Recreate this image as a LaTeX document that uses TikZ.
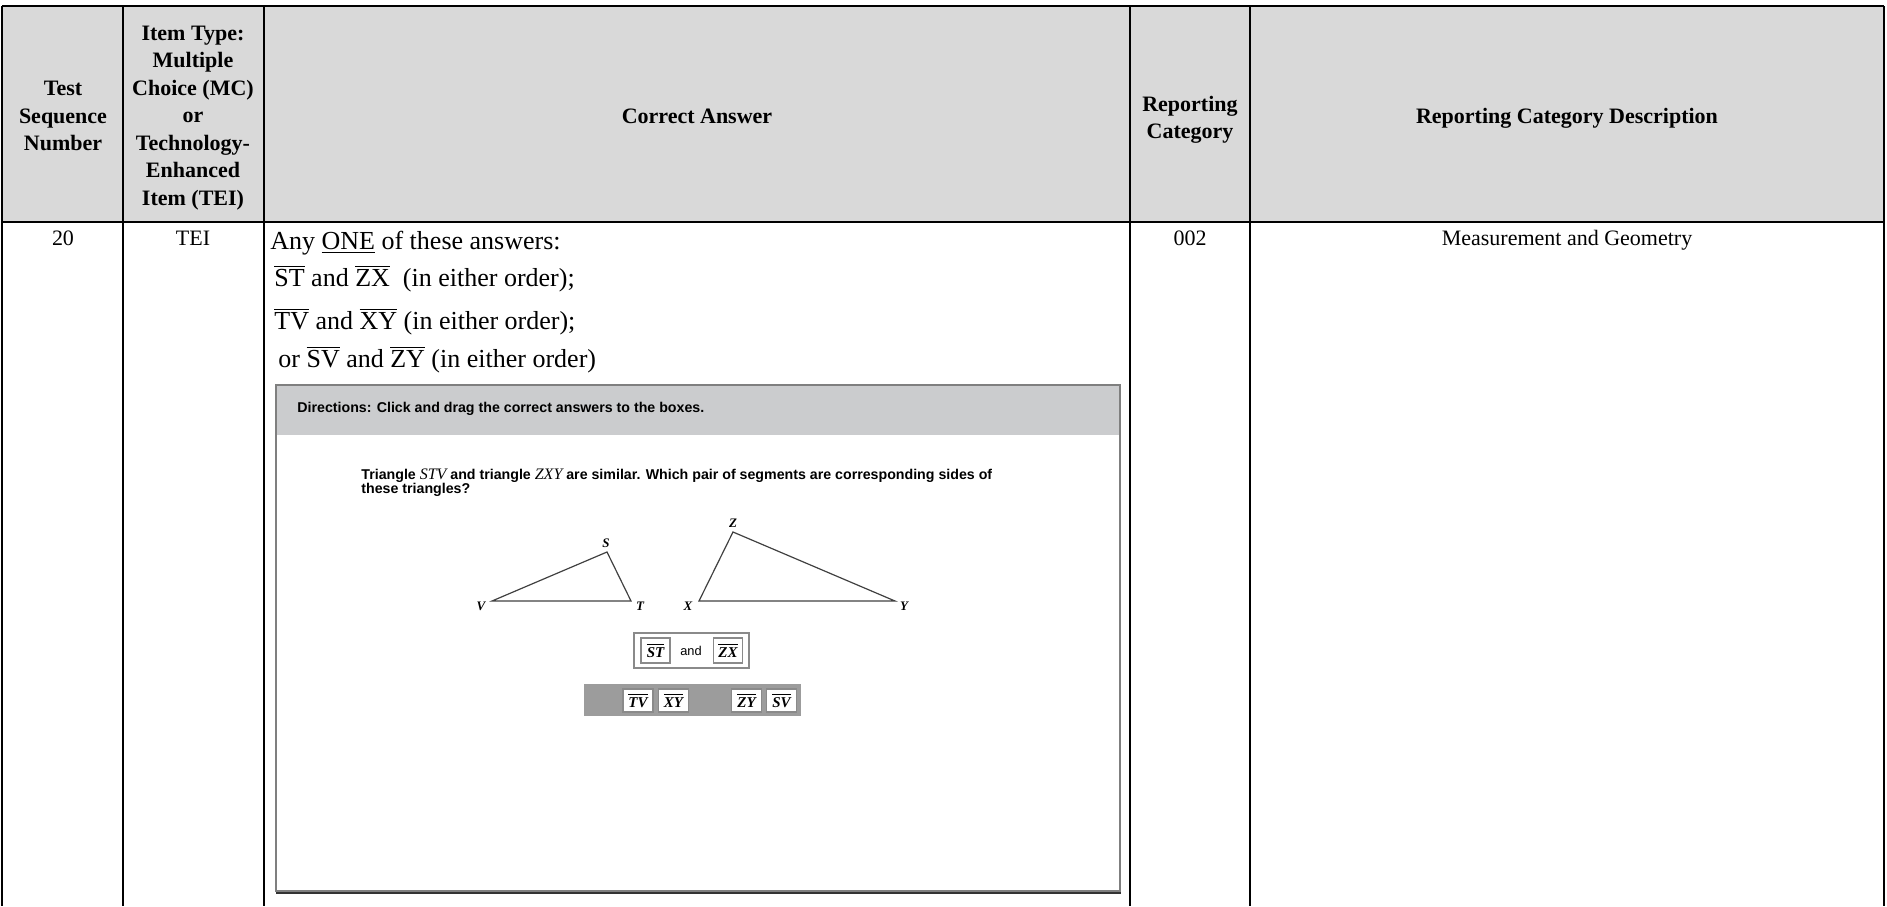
\documentclass[tikz,border=0pt]{standalone}
\usepackage{fontspec}
\setmainfont{Liberation Serif}
\newfontfamily\panelsf{Liberation Sans}
\usetikzlibrary{positioning}

\definecolor{headgray}{HTML}{D9D9D9}
\definecolor{bargray}{HTML}{CBCCCE}
\definecolor{framegray}{HTML}{7F7F7F}
\definecolor{chipgray}{HTML}{8A8A8A}

\newcommand{\seg}[1]{$\overline{\mbox{#1}}$}
\newcommand{\chipseg}[1]{$\overline{\mbox{\bfseries\itshape #1}}$}

\begin{document}
\begin{tikzpicture}[x=0.5pt, y=-0.5pt,
  head/.style={font=\bfseries\fontsize{11}{13.75}\selectfont, align=center, inner sep=0pt},
  cell/.style={font=\fontsize{11}{13.75}\selectfont, inner sep=0pt, anchor=base},
  answer/.style={font=\fontsize{13}{16}\selectfont, inner sep=0pt, anchor=base west},
  panel/.style={font=\panelsf\bfseries\fontsize{7.1}{7}\selectfont, inner sep=0pt},
  vlabel/.style={font=\bfseries\itshape\fontsize{6.5}{7}\selectfont, inner sep=0pt},
  chip/.style={draw=chipgray, fill=white, line width=0.6pt, minimum width=15pt,
    minimum height=11.5pt, inner sep=0pt, font=\fontsize{7.5}{8}\selectfont},
  grid/.style={line width=1.2pt}
]
\useasboundingbox (0,0) rectangle (1887,906);

% header band
\fill[headgray] (2,6) rectangle (1884,222);
\draw[grid] (2,6) -- (1884,6);
\draw[grid] (2,222) -- (1884,222);
\foreach \x in {2,123,264,1130,1250,1884}
  \draw[grid] (\x,6) -- (\x,906);

\node[head] (hnum) at (63,116) {Test\\Sequence\\Number};
\node[head] (htype) at (193,118) {Item Type:\\Multiple\\Choice (MC)\\or\\Technology-\\Enhanced\\Item (TEI)};
\node[head] (hans) at (697,116) {Correct Answer};
\node[head] (hcat) at (1190,120) {Reporting\\Category};
\node[head] (hdesc) at (1567,118) {Reporting Category Description};

% row
\node[cell] (num) at (63,245) {20};
\node[cell] (type) at (193,245) {TEI};
\node[cell] (cat) at (1190,245) {002};
\node[cell] (desc) at (1567,245) {Measurement and Geometry};

\node[answer] (a1) at (270,249) {Any \underline{ONE} of these answers:};
\node[answer] (a2) at (274,286) {\seg{ST} and \seg{ZX} \ (in either order);};
\node[answer] (a3) at (274,329) {\seg{TV} and \seg{XY} (in either order);};
\node[answer] (a4) at (278,367) {or \seg{SV} and \seg{ZY} (in either order)};

% item screenshot
\fill[bargray] (276,385) rectangle (1120,435);
\draw[framegray, line width=0.8pt] (276,385) rectangle (1120,891);
\draw[black!80, line width=1pt] (276,893) -- (1121,893);

\node[panel, anchor=west] (dir) at (297,409) {Directions: Click and drag the correct answers to the boxes.};
\node[panel, anchor=north west, align=left] (quest) at (361,468)
  {Triangle {\normalfont\itshape\fontsize{8}{7}\selectfont STV} and triangle {\normalfont\itshape\fontsize{8}{7}\selectfont ZXY} are similar. Which pair of segments are corresponding sides of\\these triangles?};

\coordinate (V) at (492,601);
\coordinate (S) at (607,552);
\coordinate (T) at (631,601);
\coordinate (Z) at (733,532);
\coordinate (X) at (699,601);
\coordinate (Y) at (895,601);
\draw[black!75, line width=0.6pt] (V) -- (S) -- (T) -- cycle;
\draw[black!75, line width=0.6pt] (X) -- (Z) -- (Y) -- cycle;
\node[vlabel] (lS) at (606,543) {S};
\node[vlabel] (lV) at (481,606) {V};
\node[vlabel] (lT) at (640,606) {T};
\node[vlabel] (lZ) at (733,523) {Z};
\node[vlabel] (lX) at (688,606) {X};
\node[vlabel] (lY) at (904,606) {Y};

% answer box
\draw[chipgray, line width=0.8pt] (634,633) rectangle (749,668);
\node[chip, minimum width=14.5pt, minimum height=12.5pt] (cST) at (655.5,650.5) {\chipseg{ST}};
\node[panel, font=\panelsf\fontsize{6.4}{7}\selectfont] (cand) at (691,651) {and};
\node[chip, minimum width=14.5pt, minimum height=12.5pt] (cZX) at (728,650.5) {\chipseg{ZX}};

% answer bank
\fill[chipgray!85] (584,684) rectangle (801,716);
\node[chip] (cTV) at (638,700.5) {\chipseg{TV}};
\node[chip] (cXY) at (673.5,700.5) {\chipseg{XY}};
\node[chip] (cZY) at (746.5,700.5) {\chipseg{ZY}};
\node[chip] (cSV) at (781.5,700.5) {\chipseg{SV}};
\end{tikzpicture}
\end{document}
